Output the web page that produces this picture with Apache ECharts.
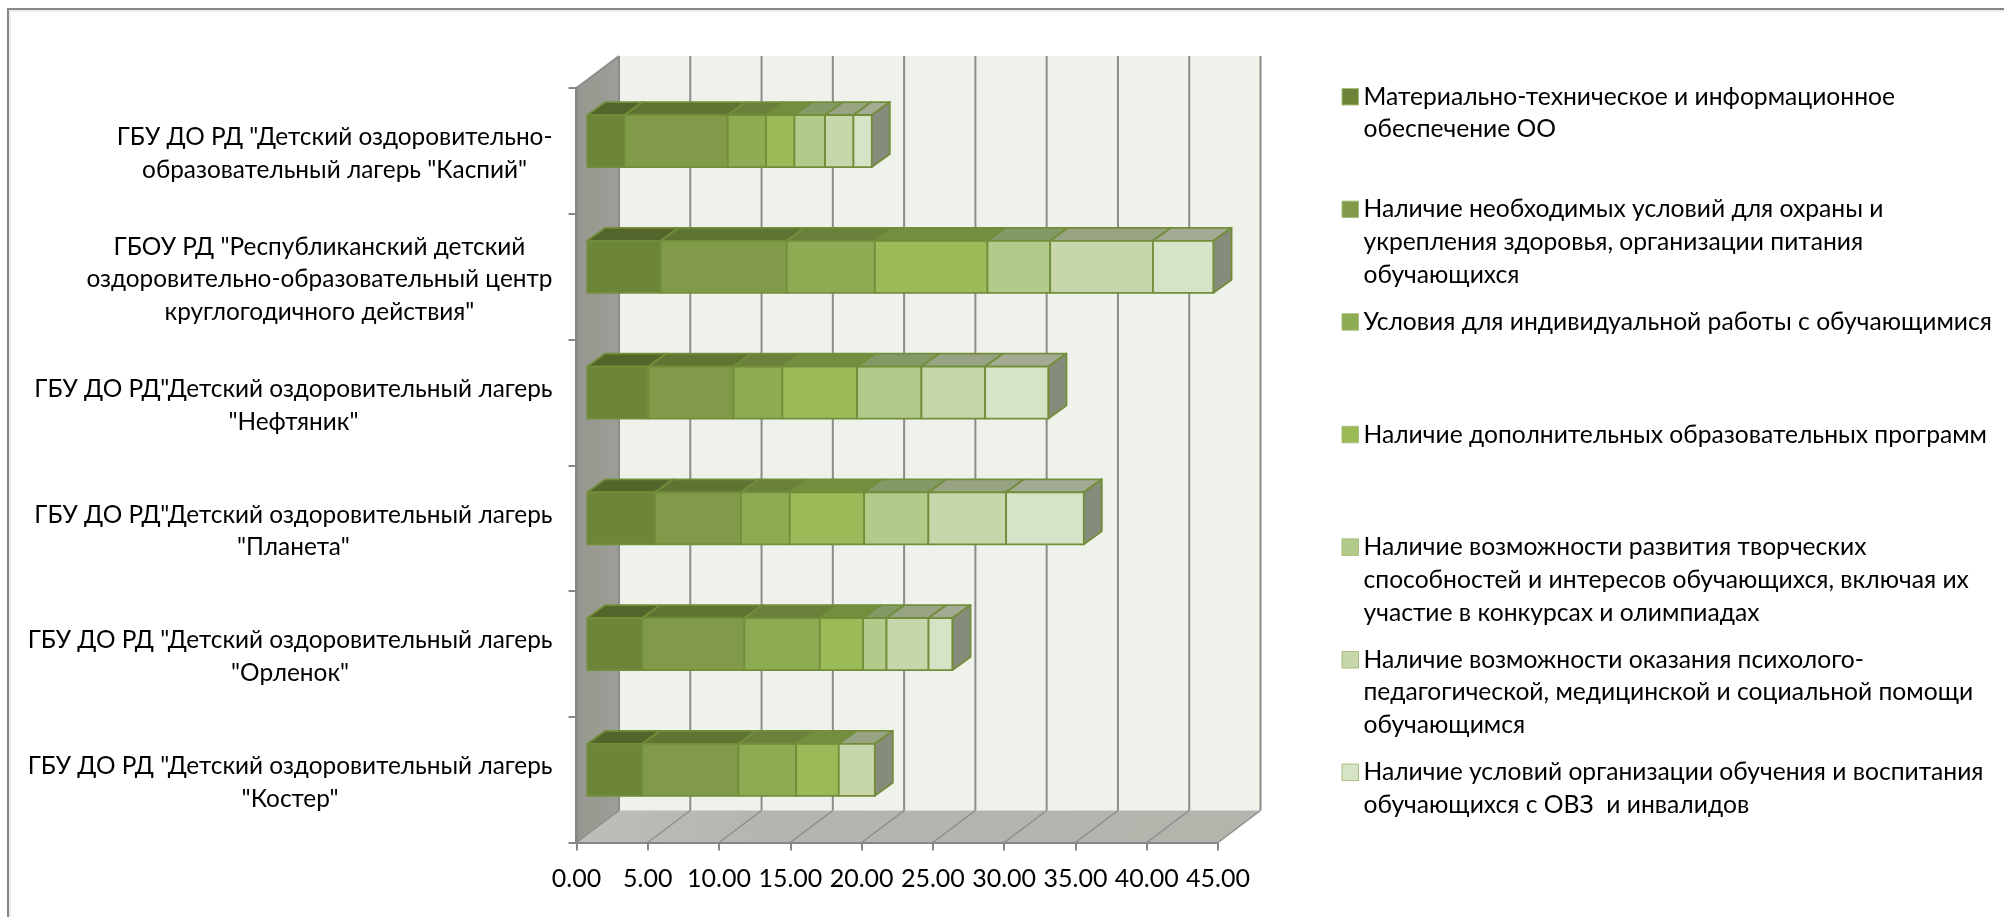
<!DOCTYPE html>
<html><head><meta charset="utf-8"><style>html,body{margin:0;padding:0;background:#fff}#main{width:2004px;height:917px}</style>
<script src="https://cdn.jsdelivr.net/npm/echarts@6/dist/echarts.min.js"></script></head><body><div id="main"></div><script>
const categories = [
 'ГБУ ДО РД "Детский оздоровительно-\nобразовательный лагерь "Каспий"',
 'ГБОУ РД "Республиканский детский\nоздоровительно-образовательный центр\nкруглогодичного действия"',
 'ГБУ ДО РД"Детский оздоровительный лагерь\n"Нефтяник"',
 'ГБУ ДО РД"Детский оздоровительный лагерь\n"Планета"',
 'ГБУ ДО РД "Детский оздоровительный лагерь\n"Орленок"',
 'ГБУ ДО РД "Детский оздоровительный лагерь\n"Костер"'
];
const seriesNames = [
 'Материально-техническое и информационное\nобеспечение ОО',
 'Наличие необходимых условий для охраны и\nукрепления здоровья, организации питания\nобучающихся',
 'Условия для индивидуальной работы с обучающимися',
 'Наличие дополнительных образовательных программ',
 'Наличие возможности развития творческих\nспособностей и интересов обучающихся, включая их\nучастие в конкурсах и олимпиадах',
 'Наличие возможности оказания психолого-\nпедагогической, медицинской и социальной помощи\nобучающимся',
 'Наличие условий организации обучения и воспитания\nобучающихся с ОВЗ  и инвалидов'
];
const s1 = [2.62, 5.15, 4.28, 4.77, 3.86, 3.86];
const s2 = [7.23, 8.84, 5.99, 6.01, 7.16, 6.74];
const s3 = [2.69, 6.18, 3.42, 3.42, 5.29, 4.05];
const s4 = [1.99, 7.90, 5.24, 5.22, 3.04, 2.99];
const s5 = [2.15, 4.40, 4.51, 4.51, 1.64, 0];
const s6 = [1.99, 7.21, 4.47, 5.45, 2.95, 2.53];
const s7 = [1.29, 4.25, 4.44, 5.45, 1.68, 0];
const xTicks = [0,5,10,15,20,25,30,35,40,45];
const values = [s1,s2,s3,s4,s5,s6,s7];

const frontColors = ['#6d8539','#809a49','#8dab53','#9bbb59','#b2cb8a','#c7d6ab','#d7e3c7'];
const topColors   = ['#54652b','#5f7433','#6b813b','#748e40','#849a66','#97a382','#a3ab95'];
const sideColor = '#868c7b', edge = '#728e3a', gridGrey = '#8c8c8c';
const FONT = 'Lato, "Noto Sans", sans-serif';
const WALL = {dx:42.5, dy:-32};       // chart box depth
const BAR  = {inX:10.8, inY:-9.8, dx:18, dy:-13, h:52};  // bar placement in depth

const totals = categories.map((_,i)=>values.reduce((a,v)=>a+v[i],0));

function wallItem(params){
  const c = params.coordSys;
  const L=c.x, R=c.x+c.width, T=c.y, B=c.y+c.height, d=WALL;
  return {type:'group',children:[
    {type:'polygon',shape:{points:[[L+d.dx,T+d.dy],[R+d.dx,T+d.dy],[R+d.dx,B+d.dy],[L+d.dx,B+d.dy]]},style:{fill:'#eff2eb'}},
    {type:'polygon',shape:{points:[[L,T],[L+d.dx,T+d.dy],[L+d.dx,B+d.dy],[L,B]]},style:{fill:new echarts.graphic.LinearGradient(0,0,1,0,[{offset:0,color:'#96988f'},{offset:1,color:'#9c9e97'}])}},
    {type:'polygon',shape:{points:[[L,B],[L+d.dx,B+d.dy],[R+d.dx,B+d.dy],[R,B]]},style:{fill:new echarts.graphic.LinearGradient(0,1,1,0,[{offset:0,color:'#bcbfb8'},{offset:0.3,color:'#b3b6ae'},{offset:1,color:'#b2b5ac'}])}},
    {type:'line',shape:{x1:L,y1:T,x2:L+d.dx,y2:T+d.dy},style:{stroke:gridGrey,lineWidth:2}},
    {type:'line',shape:{x1:L+d.dx,y1:B+d.dy,x2:R+d.dx,y2:B+d.dy},style:{stroke:'#d4d6cf',lineWidth:1}}
  ]};
}
function gridItem(params,api){
  const c = params.coordSys, x = api.coord([api.value(0),0])[0], B=c.y+c.height, T=c.y, d=WALL;
  return {type:'group',children:[
    {type:'line',shape:{x1:x,y1:B,x2:x+d.dx,y2:B+d.dy},style:{stroke:'#8c8e88',lineWidth:1.5}},
    {type:'line',shape:{x1:x+d.dx,y1:B+d.dy,x2:x+d.dx,y2:T+d.dy},style:{stroke:gridGrey,lineWidth:2}}
  ]};
}
function barRenderer(si){
  return function(params,api){
    const a=api.value(0), b=api.value(1), cat=api.value(2);
    if(b-a<=0) return null;
    const p0=api.coord([a,cat]), p1=api.coord([b,cat]);
    const x0=p0[0]+BAR.inX, x1=p1[0]+BAR.inX, cy=p0[1]+BAR.inY, t=cy-BAR.h/2, u=cy+BAR.h/2;
    const line={stroke:edge,lineWidth:1.8,lineJoin:'round'};
    const kids=[
      {type:'polygon',shape:{points:[[x0,t],[x0+BAR.dx,t+BAR.dy],[x1+BAR.dx,t+BAR.dy],[x1,t]]},style:Object.assign({fill:topColors[si]},line)},
      {type:'rect',shape:{x:x0,y:t,width:x1-x0,height:u-t},style:Object.assign({fill:frontColors[si]},line)}
    ];
    if(Math.abs(b-totals[cat])<1e-6) kids.push({type:'polygon',shape:{points:[[x1,t],[x1+BAR.dx,t+BAR.dy],[x1+BAR.dx,u+BAR.dy],[x1,u]]},style:Object.assign({fill:sideColor},line)});
    return {type:'group',children:kids};
  };
}
const barSeries = seriesNames.map((name,si)=>{
  const data = categories.map((_,ci)=>{
    let start=0; for(let k=0;k<si;k++) start+=values[k][ci];
    return [start,start+values[si][ci],ci];
  });
  return {type:'custom',name,z:4,data,encode:{x:[0,1],y:2},itemStyle:{color:frontColors[si]},renderItem:barRenderer(si)};
});
function padLegend(name){
  const lines=name.split('\n');
  while(lines.length<3) lines.push(' ');
  return '\n\n'+lines.join('\n');
}
const chart = echarts.init(document.getElementById('main'),null,{renderer:'canvas'});
chart.setOption({
  animation:false, backgroundColor:'#fff',
  grid:{left:576.5,top:88,width:641.5,height:754.5,containLabel:false},
  xAxis:{type:'value',min:0,max:45,interval:5,z:5,
    axisLine:{show:true,lineStyle:{color:'#868686',width:2}},
    axisTick:{show:true,length:8,lineStyle:{color:'#868686',width:2}},
    splitLine:{show:false},
    axisLabel:{margin:24,fontFamily:FONT,fontSize:25,color:'#000',formatter:v=>v.toFixed(2),hideOverlap:false}},
  yAxis:{type:'category',inverse:true,data:categories,z:5,
    axisLine:{show:true,lineStyle:{color:'#868686',width:3}},
    axisTick:{show:true,length:8,lineStyle:{color:'#868686',width:2}},
    splitLine:{show:false},
    axisLabel:{interval:0,margin:24,align:'right',padding:[6,0,0,0],
      formatter:v=>v.split('\n').map(l=>'{c|'+l+'}').join('\n'),
      rich:{c:{align:'center',fontFamily:FONT,fontSize:24.4,lineHeight:32.8,color:'#000'}}}},
  legend:{orient:'vertical',left:1341.5,top:15,itemWidth:16.5,itemHeight:16.5,itemGap:-50.9,icon:'rect',
    selectedMode:false,align:'left',padding:0,
    itemStyle:{borderColor:'#a9bd7c',borderWidth:1},
    textStyle:{fontFamily:FONT,fontSize:24.65,lineHeight:32.7,color:'#000'},
    formatter:padLegend,data:seriesNames},
  graphic:[
    {type:'polyline',z:0,shape:{points:[[8,917],[8,9],[2004,9]]},style:{stroke:'#868686',fill:null,lineWidth:2}},
    {type:'polyline',z:0,shape:{points:[[10,917],[10,11],[2004,11]]},style:{stroke:'#dcdcdc',fill:null,lineWidth:1}}
  ],
  series:[
    {type:'custom',z:1,silent:true,data:[[0]],encode:{x:0},renderItem:wallItem},
    {type:'custom',z:2,silent:true,data:xTicks.map(t=>[t]),encode:{x:0},renderItem:gridItem}
  ].concat(barSeries)
});
</script></body></html>
